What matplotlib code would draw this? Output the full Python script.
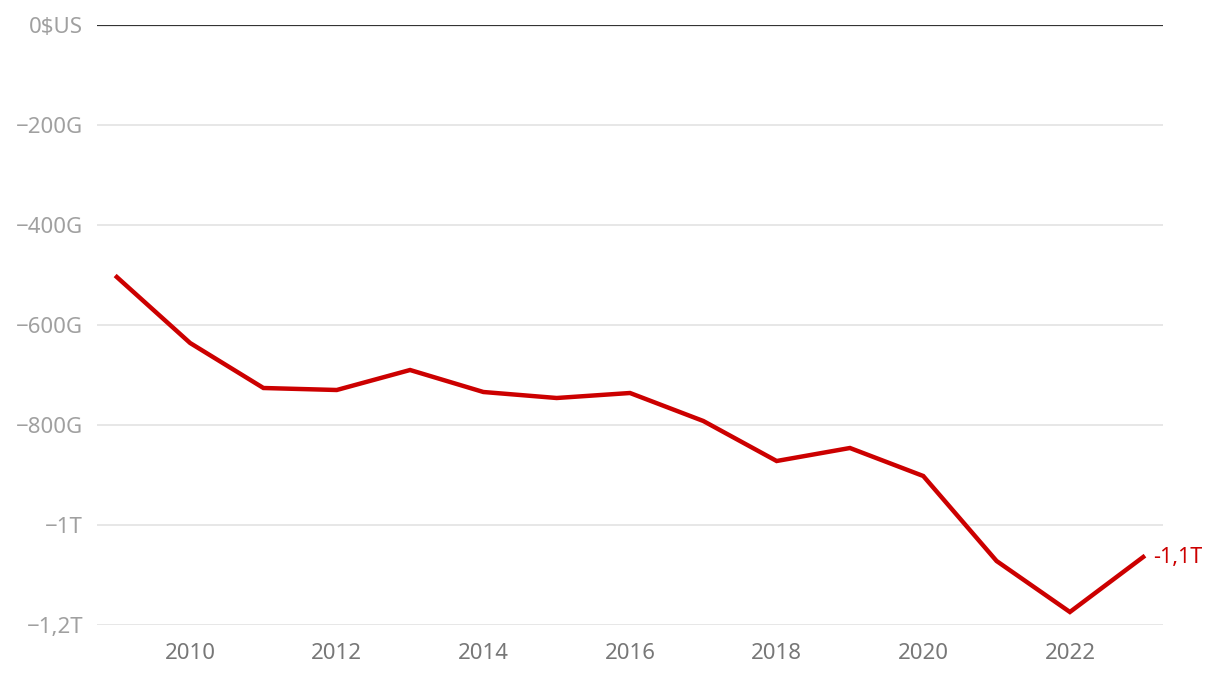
import matplotlib
matplotlib.use("Agg")
import matplotlib.pyplot as plt

plt.rcParams['font.family'] = ['Noto Sans', 'DejaVu Sans']

# data (billions of US$)
years = [2009, 2010, 2011, 2012, 2013, 2014, 2015, 2016, 2017, 2018, 2019, 2020, 2021, 2022, 2023]
balance = [-504, -636, -726, -730, -690, -734, -746, -736, -792, -872, -846, -902, -1072, -1174, -1064]

yticks = [0, -200, -400, -600, -800, -1000, -1200]
ylabels = ['0$US', '\u2212200G', '\u2212400G', '\u2212600G', '\u2212800G', '\u22121T', '\u22121,2T']
xticks = [2010, 2012, 2014, 2016, 2018, 2020, 2022]
end_label = '-1,1T'

red = '#cc0000'

fig = plt.figure(figsize=(12.2, 6.76), dpi=100)
ax = fig.add_axes([97 / 1220, 1 - 625 / 676, 1066 / 1220, 600 / 676])

for t in yticks[1:]:
    ax.axhline(t, color='#e3e3e3', lw=1.2, zorder=1)
ax.axhline(0, color='#333333', lw=1.6, zorder=2)

ax.plot(years, balance, color=red, lw=3.2, solid_joinstyle='miter', zorder=3)
ax.annotate(end_label, (years[-1], balance[-1]), xytext=(7, 0), textcoords='offset points',
            color=red, fontsize=15.5, va='center', ha='left')

ax.set_xlim(2008.73, 2023.27)
ax.set_ylim(-1200, 0)
ax.set_yticks(yticks)
ax.set_yticklabels(ylabels)
ax.set_xticks(xticks)
ax.set_xticklabels([str(x) for x in xticks])

ax.tick_params(axis='y', length=0, pad=10, labelsize=16, labelcolor='#a0a0a0')
ax.tick_params(axis='x', length=0, pad=13, labelsize=16, labelcolor='#777777')
for s in ax.spines.values():
    s.set_visible(False)

fig.savefig('out.png', dpi=100)
